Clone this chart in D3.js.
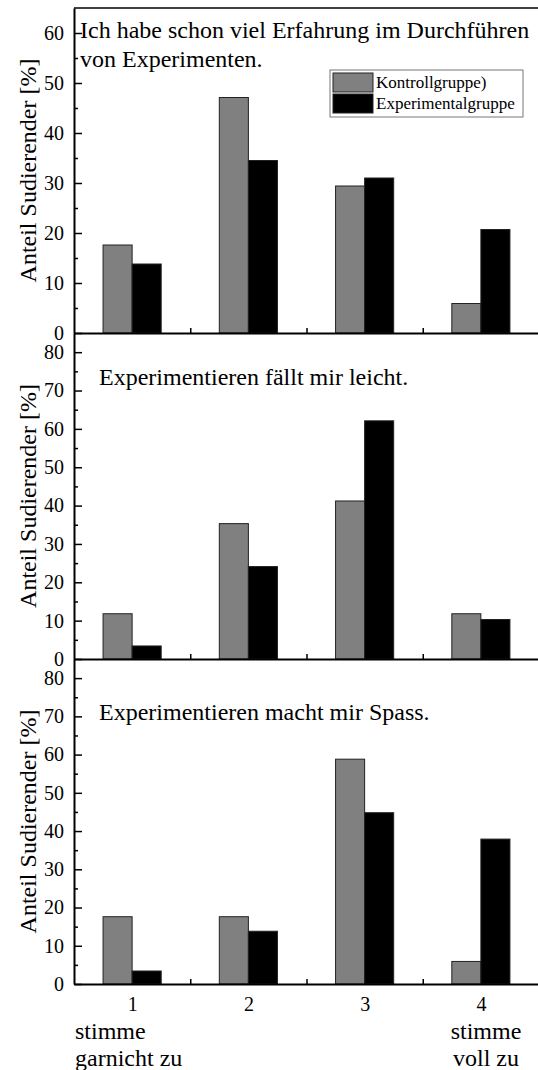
<!DOCTYPE html>
<html>
<head>
<meta charset="utf-8">
<script src="https://cdn.jsdelivr.net/npm/d3@7"></script>
<style>
body{margin:0;background:#fff}
</style>
</head>
<body>
<svg id="chart" width="538" height="1070"></svg>
<script>
// answer scale 1..4
var categories = [1, 2, 3, 4];
var seriesNames = ["Kontrollgruppe)", "Experimentalgruppe"];
var seriesColors = ["#808080", "#000000"];

// values in percent
var erfahrungKontroll = [17.6, 47.1, 29.4, 5.9];
var erfahrungExperimental = [13.8, 34.5, 31.0, 20.7];
var leichtKontroll = [11.8, 35.3, 41.2, 11.8];
var leichtExperimental = [3.4, 24.1, 62.1, 10.3];
var spassKontroll = [17.6, 17.6, 58.8, 5.9];
var spassExperimental = [3.4, 13.8, 44.8, 37.9];

var panelTitles = [
	["Ich habe schon viel Erfahrung im Durchführen", "von Experimenten."],
	["Experimentieren fällt mir leicht."],
	["Experimentieren macht mir Spass."]
];
var yMajorTicks = [
	[0, 10, 20, 30, 40, 50, 60],
	[0, 10, 20, 30, 40, 50, 60, 70, 80],
	[0, 10, 20, 30, 40, 50, 60, 70, 80]
];
var yMax = [65, 85, 85];
var yLabel = "Anteil Sudierender [%]";
var xEndLabels = [["stimme", "garnicht zu"], ["stimme", "voll zu"]];

var panelData = [
	[erfahrungKontroll, erfahrungExperimental],
	[leichtKontroll, leichtExperimental],
	[spassKontroll, spassExperimental]
];

// layout
var w = 538, h = 1070;
var left = 74, right = 539;
var panelTop = [8, 333, 659];
var panelBottom = [333, 659, 984];
var titleX = [80, 99, 99];
var titleY = [38, 385, 720];
var serif = "Liberation Serif";

var svg = d3.select("#chart").attr("width", w).attr("height", h)
	.style("font-family", serif);

var x = d3.scaleLinear().domain([0.5, 4.5]).range([left, right]);
var barW = 0.25;

// top frame line
svg.append("line")
	.attr("x1", left).attr("x2", w)
	.attr("y1", panelTop[0]).attr("y2", panelTop[0])
	.attr("stroke", "#000").attr("stroke-width", 1.5);

for (var p = 0; p < 3; p++) {
	var y = d3.scaleLinear().domain([0, yMax[p]]).range([panelBottom[p], panelTop[p]]);
	var g = svg.append("g");

	// bars
	panelData[p].forEach(function(vals, s) {
		g.selectAll(".bar" + s)
			.data(categories)
			.join("rect")
			.attr("class", "bar" + s)
			.attr("x", function(d) { return x(d - barW + s * barW); })
			.attr("width", function(d) { return x(d + barW) - x(d); })
			.attr("y", function(d, i) { return y(vals[i]); })
			.attr("height", function(d, i) { return y(0) - y(vals[i]); })
			.attr("fill", seriesColors[s])
			.attr("stroke", "#222")
			.attr("stroke-width", 1);
	});

	// minor y ticks
	var minor = d3.range(5, yMax[p], 10);
	g.append("g")
		.attr("transform", "translate(" + left + ",0)")
		.call(d3.axisLeft(y).tickValues(minor).tickSizeInner(-4).tickSizeOuter(0).tickFormat(""))
		.call(function(a) { a.select(".domain").remove(); a.selectAll("line").attr("stroke-width", 1.5); });

	// major y ticks
	g.append("g")
		.attr("transform", "translate(" + left + ",0)")
		.call(d3.axisLeft(y).tickValues(yMajorTicks[p]).tickSizeInner(-8).tickSizeOuter(0).tickPadding(10))
		.call(function(a) {
			a.select(".domain").attr("stroke-width", 2);
			a.selectAll("line").attr("stroke-width", 1.5);
			a.selectAll("text").style("font-family", serif).attr("font-size", 20);
		});

	// x axis with ticks between groups
	g.append("g")
		.attr("transform", "translate(0," + panelBottom[p] + ")")
		.call(d3.axisBottom(x).tickValues([1.5, 2.5, 3.5]).tickSizeInner(-5).tickSizeOuter(0).tickFormat(""))
		.call(function(a) {
			a.select(".domain").attr("stroke-width", 2);
			a.selectAll("line").attr("stroke-width", 1.5);
		});

	// title
	var t = g.append("text")
		.attr("x", titleX[p]).attr("y", titleY[p])
		.style("font-family", serif)
		.attr("font-size", 24);
	panelTitles[p].forEach(function(line, i) {
		t.append("tspan").attr("x", titleX[p]).attr("dy", i == 0 ? 0 : 29).text(line);
	});

	// y label
	g.append("text")
		.attr("transform", "translate(36," + ((panelTop[p] + panelBottom[p]) / 2) + ") rotate(-90)")
		.attr("text-anchor", "middle")
		.style("font-family", serif)
		.attr("font-size", 24)
		.text(yLabel);

	if (p == 2) {
		g.append("g")
			.attr("transform", "translate(0," + panelBottom[p] + ")")
			.call(d3.axisBottom(x).tickValues(categories).tickFormat(d3.format("d")).tickSize(0).tickPadding(13))
			.call(function(a) {
				a.select(".domain").remove();
				a.selectAll("text").style("font-family", serif).attr("font-size", 20);
			});
	}
}

// end labels under the x axis
var ex = [{x: 75, anchor: "start"}, {x: 486, anchor: "middle"}];
xEndLabels.forEach(function(lines, k) {
	lines.forEach(function(line, i) {
		svg.append("text")
			.attr("x", ex[k].x).attr("y", 1039 + i * 27)
			.attr("text-anchor", ex[k].anchor)
			.style("font-family", serif)
			.attr("font-size", 24)
			.text(line);
	});
});

// legend
var lg = svg.append("g").attr("transform", "translate(330,70)");
lg.append("rect").attr("width", 193).attr("height", 47)
	.attr("fill", "#fff").attr("stroke", "#777").attr("stroke-width", 1);
seriesNames.forEach(function(name, i) {
	lg.append("rect")
		.attr("x", 3).attr("y", 3 + i * 21)
		.attr("width", 40).attr("height", 19)
		.attr("fill", seriesColors[i]).attr("stroke", "#222");
	lg.append("text")
		.attr("x", 46).attr("y", 18 + i * 21)
		.style("font-family", serif)
		.attr("font-size", 17)
		.text(name);
});
</script>
</body>
</html>
